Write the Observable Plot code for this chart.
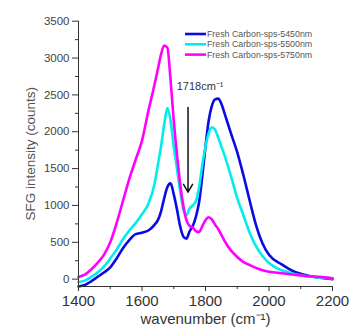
<!DOCTYPE html>
<html>
<head>
<meta charset="utf-8">
<script src="https://cdn.jsdelivr.net/npm/d3@7"></script>
<script src="https://cdn.jsdelivr.net/npm/@observablehq/plot@0.6"></script>
<style>
  html, body { margin: 0; padding: 0; background: #fff; }
</style>
</head>
<body>
<div id="chart"></div>
<script>
const wavenumber = [1400,1420,1440,1460,1480,1500,1520,1540,1560,1580,1600,1620,1640,1650,1660,1670,1680,1690,1700,1710,1720,1730,1740,1750,1760,1770,1780,1790,1800,1810,1820,1830,1840,1850,1860,1880,1900,1920,1940,1960,1980,2000,2040,2080,2120,2160,2200];

const s5450 = [-100,-80,-30,30,90,160,280,420,530,610,630,660,740,800,920,1100,1250,1300,1150,950,720,580,550,650,720,850,1050,1400,1800,2150,2350,2440,2450,2380,2250,1980,1720,1400,1050,720,480,330,200,100,50,20,0];
const s5500 = [-40,-20,30,90,170,280,400,540,660,760,880,1020,1300,1550,1800,2100,2320,2150,1800,1500,1200,950,870,960,1000,1060,1250,1550,1800,1980,2060,2030,1920,1800,1680,1400,1100,860,620,440,310,220,120,70,40,20,10];
const s5750 = [30,60,130,220,330,500,760,1060,1360,1620,1880,2280,2650,2850,3050,3170,3140,2700,2150,1700,1300,1000,800,720,700,650,640,720,800,840,810,740,680,600,520,390,300,230,190,150,120,100,80,60,40,30,10];

const seriesNames = ["Fresh Carbon-sps-5450nm", "Fresh Carbon-sps-5500nm", "Fresh Carbon-sps-5750nm"];
const seriesColors = ["#0a0ae6", "#00eded", "#ff00ff"];

const xTicks = [1400, 1600, 1800, 2000, 2200];
const yTicks = [0, 500, 1000, 1500, 2000, 2500, 3000, 3500];

const annotationText = "1718cm⁻¹";
const annotationArrow = [{x1: 1745, y1: 2330, x2: 1745, y2: 1180}];
const annotationLabel = [{x: 1783, y: 2620}];

const seriesValues = [s5450, s5500, s5750];
const rows = [];
seriesValues.forEach((vals, i) => {
  vals.forEach((v, j) => rows.push({series: seriesNames[i], wn: wavenumber[j], v}));
});

const axisColor = "#333";

const chart = Plot.plot({
  width: 351,
  height: 332,
  marginLeft: 78,
  marginRight: 19,
  marginTop: 20.7,
  marginBottom: 46,
  style: {fontFamily: "'Liberation Sans', Arial, sans-serif", background: "#fff", color: "#333"},
  x: {domain: [1400, 2200]},
  y: {domain: [-100, 3500]},
  color: {domain: seriesNames, range: seriesColors},
  marks: [
    Plot.lineY(rows, {x: "wn", y: "v", stroke: "series", strokeWidth: 2.6, curve: "monotone-x"}),
    Plot.ruleX([1400], {stroke: axisColor, strokeWidth: 1}),
    Plot.ruleY([-100], {stroke: axisColor, strokeWidth: 1}),
    Plot.axisX({ticks: xTicks, tickSize: 5, tickPadding: 4, fontSize: 15, label: null, stroke: axisColor, fill: "#333", tickFormat: d => String(d)}),
    Plot.axisX({ticks: d3.range(1500, 2200, 200), tickSize: 3, tickFormat: () => "", label: null, stroke: axisColor}),
    Plot.axisY({ticks: yTicks, tickSize: 6, tickPadding: 3, fontSize: 11.5, label: null, stroke: axisColor, fill: "#444", tickFormat: d => String(d)}),
    Plot.axisY({ticks: d3.range(250, 3500, 500), tickSize: 3, tickFormat: () => "", label: null, stroke: axisColor}),
    Plot.text(["SFG intensity (counts)"], {frameAnchor: "left", dx: -48, rotate: -90, fontSize: 13.5, fill: "#555", textAnchor: "middle"}),
    Plot.text(["wavenumber (cm⁻¹)"], {frameAnchor: "bottom", dy: 37, fontSize: 15, fill: "#333", textAnchor: "middle"}),
    Plot.arrow(annotationArrow, {x1: "x1", y1: "y1", x2: "x2", y2: "y2", stroke: "#111", strokeWidth: 1.5, headLength: 9, bend: 0}),
    Plot.text(annotationLabel, {x: "x", y: "y", text: () => annotationText, fontSize: 11, fill: "#333"})
  ]
});

document.getElementById("chart").appendChild(chart);

// legend inside the plot, top right
const svg = d3.select(chart);
const legendG = svg.append("g").attr("text-anchor", "start");
seriesNames.forEach((name, i) => {
  const y = 34 + i * 10.3;
  legendG.append("line").attr("x1", 185).attr("x2", 206).attr("y1", y).attr("y2", y)
    .attr("stroke", seriesColors[i]).attr("stroke-width", 2.6);
  legendG.append("text").attr("x", 207).attr("y", y).attr("dy", "0.35em")
    .attr("font-size", 8.8).attr("fill", "#555").text(name);
});
</script>
</body>
</html>
